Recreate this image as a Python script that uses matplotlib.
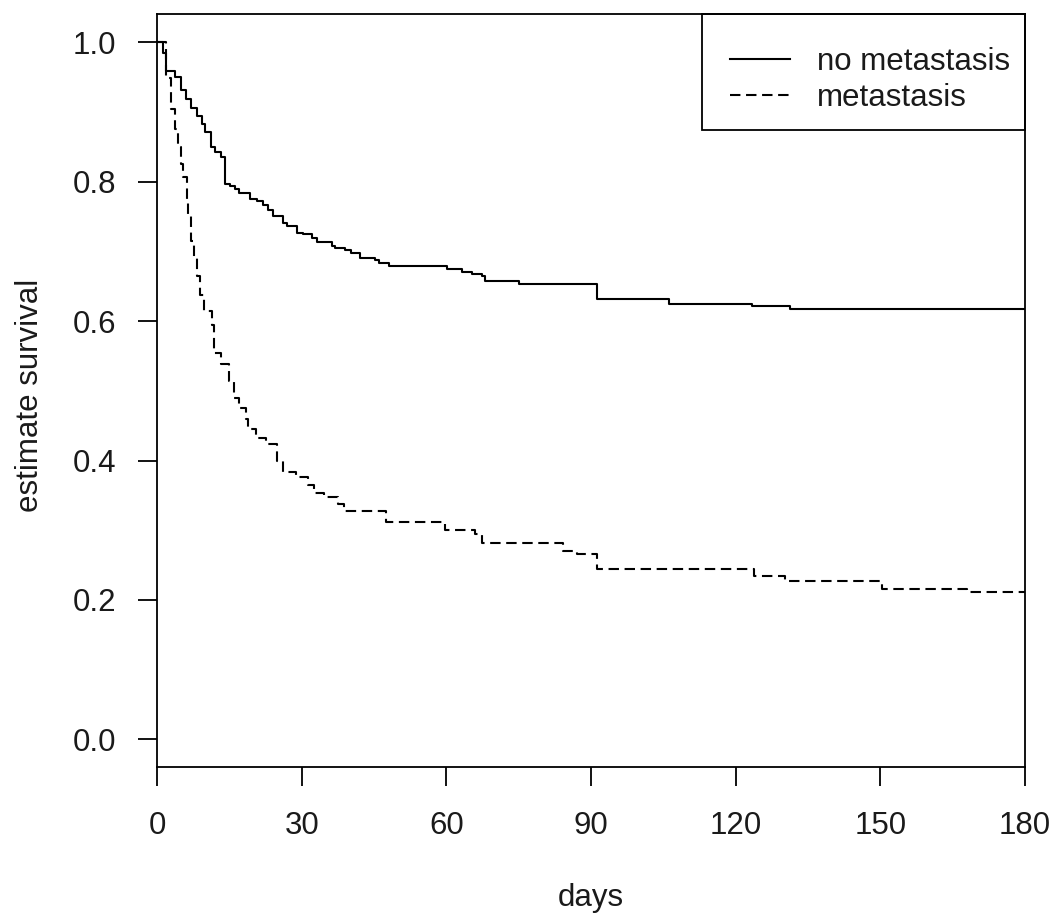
import matplotlib
matplotlib.use("Agg")
import matplotlib.pyplot as plt
from matplotlib.patches import Rectangle

plt.rcParams['font.family'] = ['Liberation Sans', 'DejaVu Sans']

# Kaplan-Meier step data (time of drop in days, survival after drop)
no_met_days = [0, 1.3, 1.9, 3.7, 4.9, 6.0, 7.1, 8.2, 9.3, 10.0, 11.1, 12.0, 13.2, 14.1,
               15.1, 16.2, 17.1, 19.3, 20.7, 22.0, 23.1, 24.1, 26.2, 26.9, 29.0, 30.3,
               32.1, 33.1, 36.2, 36.9, 39.0, 40.2, 42.0, 45.2, 46.0, 48.2, 60.1, 63.2,
               65.3, 67.3, 68.0, 75.1, 91.3, 106.2, 123.3, 131.3, 180]
no_met_surv = [1.0, 0.984, 0.958, 0.950, 0.932, 0.918, 0.906, 0.894, 0.882, 0.871, 0.849,
               0.842, 0.835, 0.797, 0.794, 0.790, 0.783, 0.775, 0.772, 0.767, 0.759, 0.750,
               0.740, 0.737, 0.727, 0.725, 0.719, 0.713, 0.708, 0.705, 0.702, 0.697, 0.690,
               0.687, 0.683, 0.679, 0.674, 0.671, 0.668, 0.664, 0.657, 0.653, 0.631, 0.625,
               0.622, 0.618, 0.618]

met_days = [0, 1.9, 2.8, 3.8, 4.35, 5.0, 5.4, 6.2, 6.5, 7.05, 7.7, 8.2, 9.0, 9.75, 11.4,
            11.9, 13.2, 15.0, 16.0, 17.1, 18.5, 18.9, 20.5, 22.6, 24.8, 26.2, 28.8, 31.3,
            32.6, 34.6, 37.5, 38.8, 47.5, 59.7, 66.0, 67.3, 84.2, 87.0, 91.3, 123.8, 130.2,
            150.3, 167.9, 180]
met_surv = [1.0, 0.948, 0.904, 0.876, 0.849, 0.826, 0.806, 0.775, 0.754, 0.715, 0.692,
            0.665, 0.637, 0.615, 0.594, 0.554, 0.538, 0.514, 0.490, 0.475, 0.459, 0.445,
            0.433, 0.424, 0.399, 0.383, 0.377, 0.365, 0.354, 0.348, 0.337, 0.328, 0.312,
            0.300, 0.294, 0.282, 0.270, 0.266, 0.245, 0.234, 0.227, 0.216, 0.211, 0.211]

labels = ["no metastasis", "metastasis"]
x_ticks = [0, 30, 60, 90, 120, 150, 180]
y_ticks = [0.0, 0.2, 0.4, 0.6, 0.8, 1.0]

W, H = 1056, 922
fig = plt.figure(figsize=(W / 100, H / 100), dpi=100)
ax = fig.add_axes([157 / W, 1 - 767.3 / H, (1025 - 157) / W, (767.3 - 14.3) / H])

lw = 1.5
ax.step(no_met_days, no_met_surv, where='post', color='black', lw=lw, label=labels[0])
ax.step(met_days, met_surv, where='post', color='black', lw=lw, label=labels[1],
        linestyle=(0, (5.0, 2.7)), dash_capstyle='butt')

ax.set_xlim(0, 180)
ax.set_ylim(-0.04, 1.04)
ax.set_xticks(x_ticks)
ax.set_xticklabels([str(v) for v in x_ticks])
ax.set_yticks(y_ticks)
ax.set_yticklabels([f"{v:.1f}" for v in y_ticks])

fs = 22.5
tc = '#1a1a1a'
ax.tick_params(axis='both', direction='out', length=13.7, width=1.3, labelsize=fs,
               color='black', labelcolor=tc)
ax.tick_params(axis='x', pad=18)
ax.tick_params(axis='y', pad=15.5)
for s in ax.spines.values():
    s.set_linewidth(1.3)

fig.text(591 / W, 1 - 898 / H, "days", ha='center', va='center', fontsize=fs, color=tc)
fig.text(30 / W, 1 - 395 / H, "estimate survival", ha='center', va='center', rotation=90,
         fontsize=fs, color=tc)

# legend frame (flush with the top-right corner of the plot box)
frame = Rectangle((701.7 / W, 1 - 130 / H), (1025 - 701.7) / W, (130 - 14.3) / H,
                  transform=fig.transFigure, fill=False, edgecolor='black', lw=1.3,
                  zorder=5)
fig.patches.append(frame)

leg = ax.legend(loc='upper left', bbox_to_anchor=(730 / W, 1 - 46.5 / H),
                bbox_transform=fig.transFigure, fontsize=fs, frameon=False,
                borderpad=0, borderaxespad=0, handlelength=1.92, handletextpad=0.85,
                labelspacing=0.21)
for t in leg.get_texts():
    t.set_color(tc)

fig.savefig("out.png", dpi=100)
